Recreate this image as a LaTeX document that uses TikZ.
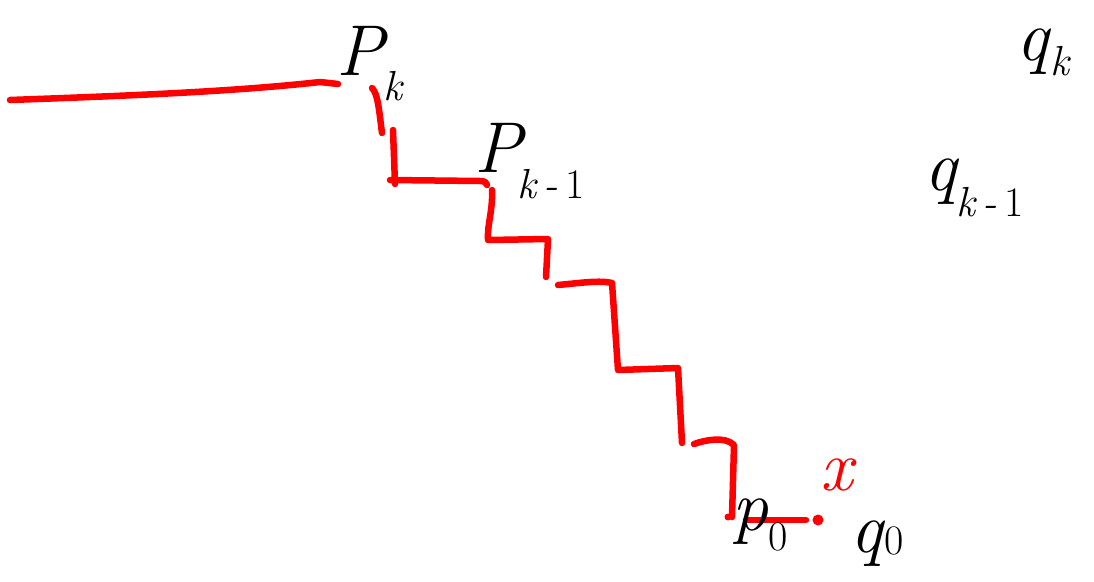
\documentclass[tikz,border=0pt]{standalone}
\newcommand{\subl}[2]{\raisebox{#1}{\fontsize{42}{42}\selectfont #2}}
\begin{document}
\begin{tikzpicture}[x=1pt,y=-1pt,
  redline/.style={draw=red,line width=6.5pt,line cap=round,line join=round},
  lbl/.style={inner sep=0pt,anchor=base west,font=\fontsize{72}{72}\selectfont\itshape}]
\useasboundingbox (0,0) rectangle (1094,581);
\fill[white] (0,0) rectangle (1094,581);
% red staircase
\draw[redline] (10,100) .. controls (120,96) and (230,92) .. (320,82) -- (338,84);
\draw[redline] (372,88) .. controls (378,94) and (379,110) .. (382,133);
\draw[redline] (393,130) -- (395,184);
\draw[redline] (390,180) -- (480,181) .. controls (485,181) and (487,183) .. (487,185);
\draw[redline] (492,190) .. controls (493,210) and (487,225) .. (488,240) -- (548,239) -- (546,277);
\draw[redline] (558,285) .. controls (580,283) and (600,280) .. (612,283) -- (618,370) -- (678,368) -- (682,443);
\draw[redline] (694,444) .. controls (705,440) and (725,436) .. (734,445) -- (732,517);
\draw[redline] (746,520) -- (806,520);
\fill[red] (818,520) circle (5.5pt);
\fill[red] (728,517) circle (3.5pt);
% labels
\node[lbl] (pk) at (336,75) {P\subl{-25pt}{k}};
\node[lbl] (pk1) at (474,172) {P\kern-4pt\subl{-26pt}{k\,-\,\upshape 1}};
\node[lbl] (qk) at (1016,60) {q\kern2pt\subl{-15pt}{k}};
\node[lbl] (qk1) at (924,190) {q\kern0pt\subl{-26pt}{k\,-\,\upshape 1}};
\node[lbl] (p0) at (732,530) {p\kern0pt\subl{-20pt}{\upshape 0}};
\node[lbl] (q0) at (850,552) {q\kern2pt\subl{-2pt}{\upshape 0}};
\node[lbl,text=red] (x) at (820,490) {x};
\end{tikzpicture}
\end{document}
